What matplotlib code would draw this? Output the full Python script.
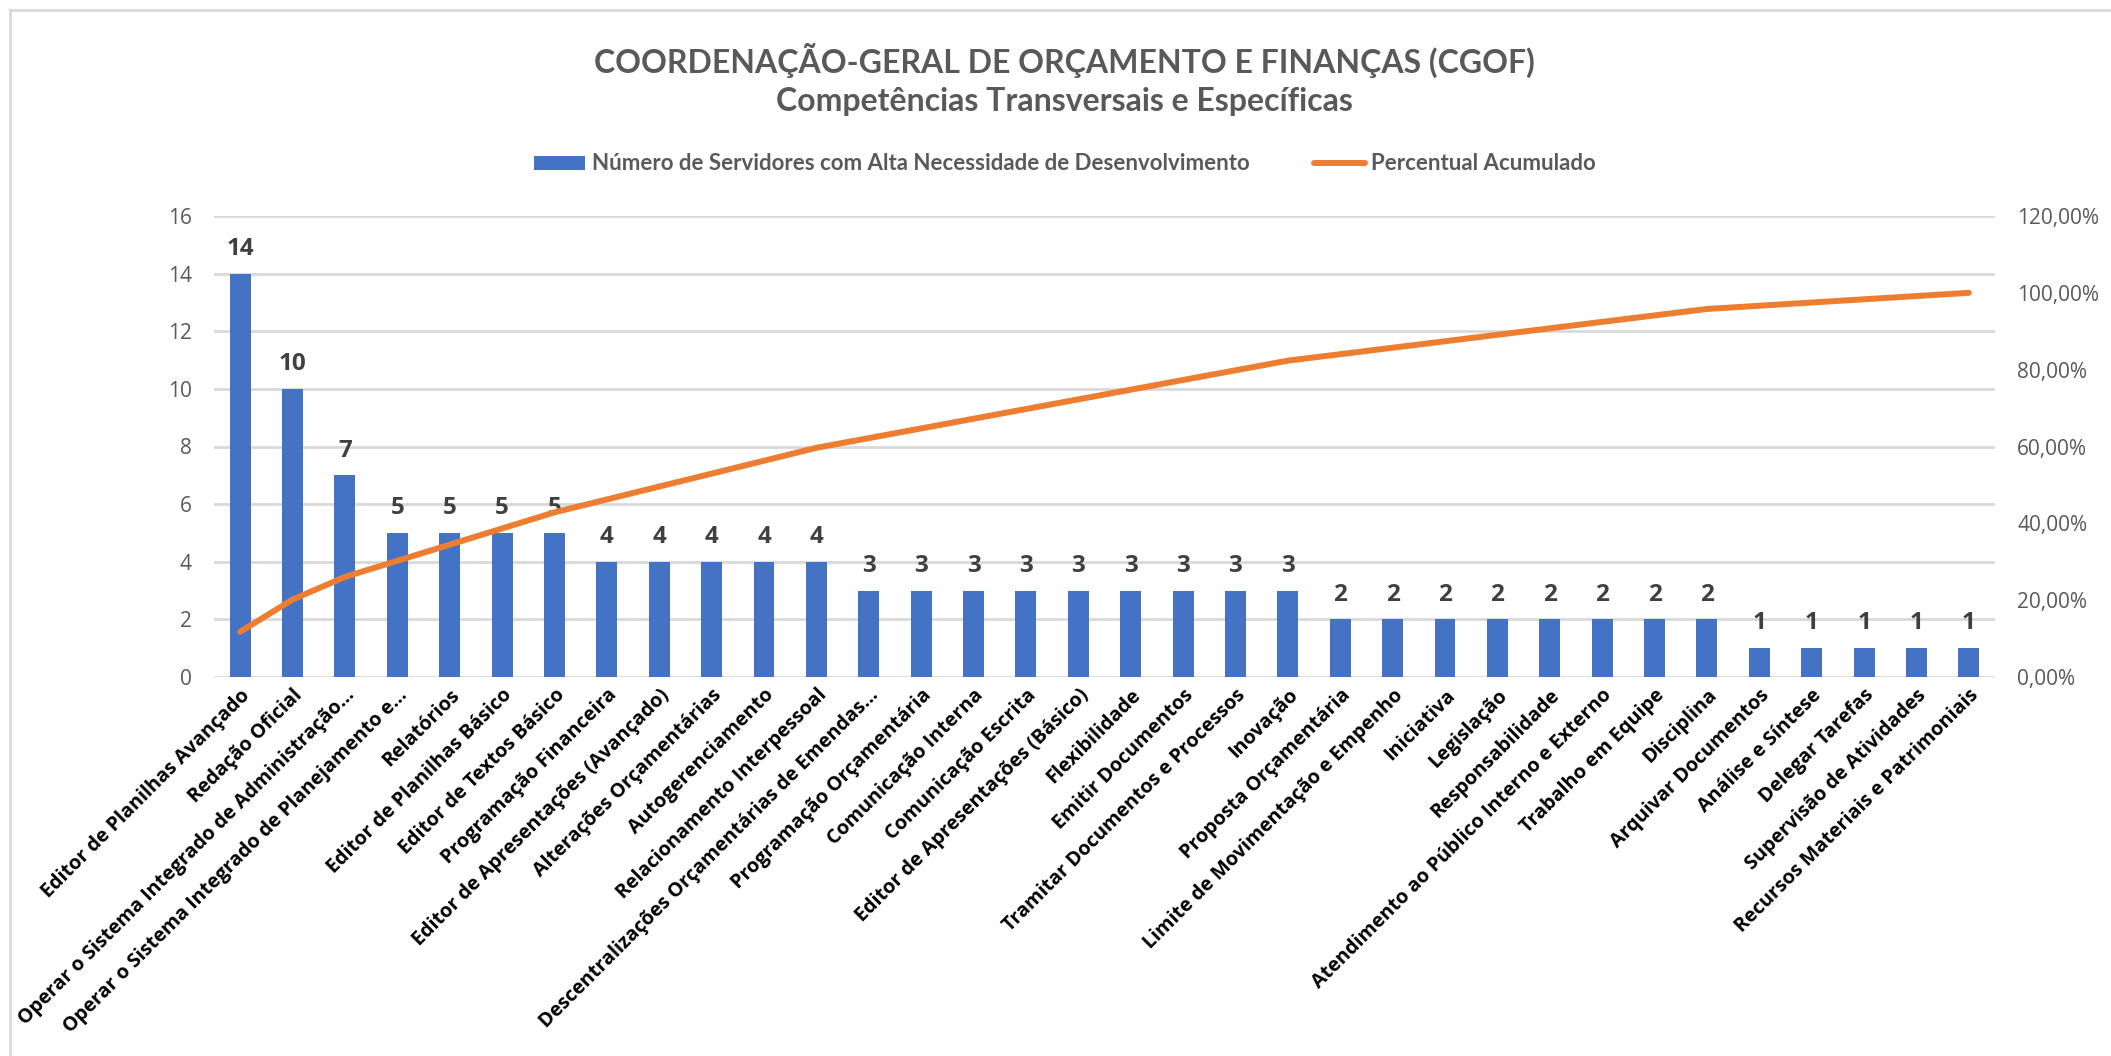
import matplotlib
matplotlib.use("Agg")
import matplotlib.pyplot as plt
from matplotlib.lines import Line2D
from matplotlib.ticker import FuncFormatter

competencias = [
    "Editor de Planilhas Avançado", "Redação Oficial",
    "Operar o Sistema Integrado de Administração...",
    "Operar o Sistema Integrado de Planejamento e...",
    "Relatórios", "Editor de Planilhas Básico", "Editor de Textos Básico",
    "Programação Financeira", "Editor de Apresentações (Avançado)",
    "Alterações Orçamentárias", "Autogerenciamento",
    "Relacionamento Interpessoal", "Descentralizações Orçamentárias de Emendas...",
    "Programação Orçamentária", "Comunicação Interna", "Comunicação Escrita",
    "Editor de Apresentações (Básico)", "Flexibilidade", "Emitir Documentos",
    "Tramitar Documentos e Processos", "Inovação", "Proposta Orçamentária",
    "Limite de Movimentação e Empenho", "Iniciativa", "Legislação",
    "Responsabilidade", "Atendimento ao Público Interno e Externo",
    "Trabalho em Equipe", "Disciplina", "Arquivar Documentos",
    "Análise e Síntese", "Delegar Tarefas", "Supervisão de Atividades",
    "Recursos Materiais e Patrimoniais",
]
servidores = [14, 10, 7, 5, 5, 5, 5, 4, 4, 4, 4, 4, 3, 3, 3, 3, 3, 3, 3, 3, 3,
              2, 2, 2, 2, 2, 2, 2, 2, 1, 1, 1, 1, 1]
perc_acumulado = [11.76, 20.17, 26.05, 30.25, 34.45, 38.66, 42.86, 46.22, 49.58,
                  52.94, 56.30, 59.66, 62.18, 64.71, 67.23, 69.75, 72.27, 74.79,
                  77.31, 79.83, 82.35, 84.03, 85.71, 87.39, 89.08, 90.76, 92.44,
                  94.12, 95.80, 96.64, 97.48, 98.32, 99.16, 100.00]

AZUL = "#4472C4"
LARANJA = "#ED7D31"
CINZA = "#595959"
GRADE = "#D9D9D9"

W, H = 2111, 1056
fig = plt.figure(figsize=(W / 100, H / 100), dpi=100)

# borda do gráfico (como no Excel)
fig.add_artist(Line2D([10 / W, 10 / W], [0, 1 - 10 / H], color=GRADE, lw=2))
fig.add_artist(Line2D([10 / W, 1], [1 - 10 / H, 1 - 10 / H], color=GRADE, lw=2))

ax = fig.add_axes([214 / W, 1 - 677 / H, (1995 - 214) / W, (677 - 216) / H])
x = list(range(len(competencias)))

bars = ax.bar(x, servidores, width=0.4, color=AZUL, zorder=2,
              label="Número de Servidores com Alta Necessidade de Desenvolvimento")
ax.set_xlim(-0.5, len(competencias) - 0.5)
ax.set_ylim(0, 16)
ax.set_yticks(range(0, 17, 2))
ax.grid(axis="y", color=GRADE, lw=2, zorder=0)
ax.set_axisbelow(True)
for s in ax.spines.values():
    s.set_visible(False)
ax.tick_params(axis="y", length=0, pad=16, labelsize=15, labelcolor=CINZA)
ax.tick_params(axis="x", length=0, pad=6)
for lab in ax.get_yticklabels():
    lab.set_fontfamily("Open Sans")

ax.set_xticks(x)
ax.set_xticklabels(competencias, rotation=45, ha="right", va="top",
                   rotation_mode="anchor", fontsize=14.2, fontweight="bold",
                   family="Open Sans", color="black")

for xi, v in zip(x, servidores):
    ax.annotate(str(v), (xi, v), xytext=(0, 13.5), textcoords="offset points",
                ha="center", va="baseline", fontsize=17.5, fontweight="bold",
                family="Open Sans", color="#404040")

ax2 = ax.twinx()
ax2.plot(x, [p / 100 for p in perc_acumulado], color=LARANJA, lw=4.3,
         solid_capstyle="round", zorder=3, label="Percentual Acumulado")
ax2.set_ylim(0, 1.2)
ax2.set_yticks([i * 0.2 for i in range(7)])
ax2.yaxis.set_major_formatter(FuncFormatter(lambda v, _: f"{v * 100:.2f}%".replace(".", ",")))
for s in ax2.spines.values():
    s.set_visible(False)
ax2.tick_params(axis="y", length=0, pad=16, labelsize=15, labelcolor=CINZA)
for lab in ax2.get_yticklabels():
    lab.set_fontfamily("Open Sans")

fig.text(1064 / W, 1 - 60 / H, "COORDENAÇÃO-GERAL DE ORÇAMENTO E FINANÇAS (CGOF)",
         ha="center", va="center", fontsize=23, fontweight="bold", family="Lato",
         color=CINZA)
fig.text(1064 / W, 1 - 101 / H, "Competências Transversais e Específicas",
         ha="center", va="center", fontsize=23, fontweight="bold", family="Lato",
         color=CINZA)

handles = [bars, ax2.get_lines()[0]]
leg = fig.legend(handles, [h.get_label() for h in handles], loc="center",
                 bbox_to_anchor=(1065 / W, 1 - 164 / H), ncol=2, frameon=False,
                 prop={"family": "Lato", "weight": "bold", "size": 16},
                 handlelength=2.3, handleheight=0.6, handletextpad=0.3,
                 columnspacing=2.9)
for t in leg.get_texts():
    t.set_color(CINZA)

fig.savefig("out.png", dpi=100, facecolor="white")
